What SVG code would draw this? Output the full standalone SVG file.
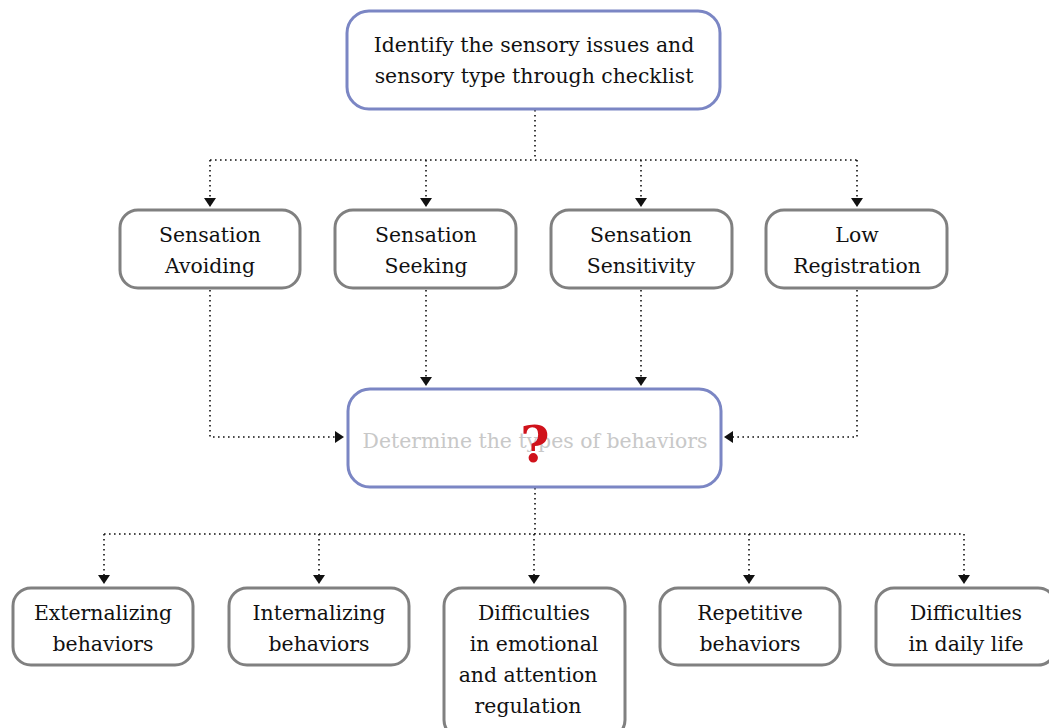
<svg xmlns="http://www.w3.org/2000/svg" width="1049" height="728" viewBox="0 0 1049 728" font-family="DejaVu Serif">
<style>
.blue{fill:#fff;stroke:#7b86c4;stroke-width:3}
.gray{fill:#fff;stroke:#808080;stroke-width:3}
text{font-size:20.4px;fill:#111;text-anchor:middle}
.ghost{fill:#c8c8c8}
.q{fill:#d0121b;font-weight:bold;font-size:50px}
.con{fill:none;stroke:#111;stroke-width:1.6;stroke-dasharray:1.6 3.4}
.ah{fill:#111}
</style>
<rect width="1049" height="728" fill="#fff"/>
<g id="connectors">
<path class="con" d="M535 110V160M210 160H857M210 160V200M426 160V200M641 160V200M857 160V200"/>
<path class="con" d="M210 290V437H336M426 290V378M641 290V378M857 290V437H732"/>
<path class="con" d="M535 488V534M104 534H964M104 534V576M319 534V576M534 534V576M749 534V576M964 534V576"/>
<g class="ah">
<polygon points="204,198 216,198 210,207"/>
<polygon points="420,198 432,198 426,207"/>
<polygon points="635,198 647,198 641,207"/>
<polygon points="851,198 863,198 857,207"/>
<polygon points="420,377 432,377 426,386"/>
<polygon points="635,377 647,377 641,386"/>
<polygon points="335,431 335,443 344,437"/>
<polygon points="733,431 733,443 724,437"/>
<polygon points="98,575 110,575 104,584"/>
<polygon points="313,575 325,575 319,584"/>
<polygon points="528,575 540,575 534,584"/>
<polygon points="743,575 755,575 749,584"/>
<polygon points="958,575 970,575 964,584"/>
</g>
</g>
<g id="n-top"><rect class="blue" x="347" y="11" width="373" height="98" rx="22"/><text x="534" y="52">Identify the sensory issues and</text><text x="534" y="83">sensory type through checklist</text></g>
<g id="n-avoid"><rect class="gray" x="120" y="210" width="180" height="78" rx="18"/><text x="210" y="242">Sensation</text><text x="210" y="273">Avoiding</text></g>
<g id="n-seek"><rect class="gray" x="335" y="210" width="181" height="78" rx="18"/><text x="426" y="242">Sensation</text><text x="426" y="273">Seeking</text></g>
<g id="n-sens"><rect class="gray" x="551" y="210" width="181" height="78" rx="18"/><text x="641" y="242">Sensation</text><text x="641" y="273">Sensitivity</text></g>
<g id="n-low"><rect class="gray" x="766" y="210" width="181" height="78" rx="18"/><text x="857" y="242">Low</text><text x="857" y="273">Registration</text></g>
<g id="n-mid"><rect class="blue" x="348" y="389" width="373" height="98" rx="22"/><text class="ghost" x="535" y="448">Determine the types of behaviors</text><text class="q" x="535" y="462">?</text></g>
<g id="n-ext"><rect class="gray" x="13" y="588" width="180" height="77" rx="18"/><text x="103" y="620">Externalizing</text><text x="103" y="651">behaviors</text></g>
<g id="n-int"><rect class="gray" x="229" y="588" width="180" height="77" rx="18"/><text x="319" y="620">Internalizing</text><text x="319" y="651">behaviors</text></g>
<g id="n-emo"><rect class="gray" x="444" y="588" width="181" height="150" rx="18"/><text x="534" y="620">Difficulties</text><text x="534" y="651">in emotional</text><text x="528" y="682">and attention</text><text x="528" y="713">regulation</text></g>
<g id="n-rep"><rect class="gray" x="660" y="588" width="180" height="77" rx="18"/><text x="750" y="620">Repetitive</text><text x="750" y="651">behaviors</text></g>
<g id="n-daily"><rect class="gray" x="876" y="588" width="180" height="77" rx="18"/><text x="966" y="620">Difficulties</text><text x="966" y="651">in daily life</text></g>
</svg>
